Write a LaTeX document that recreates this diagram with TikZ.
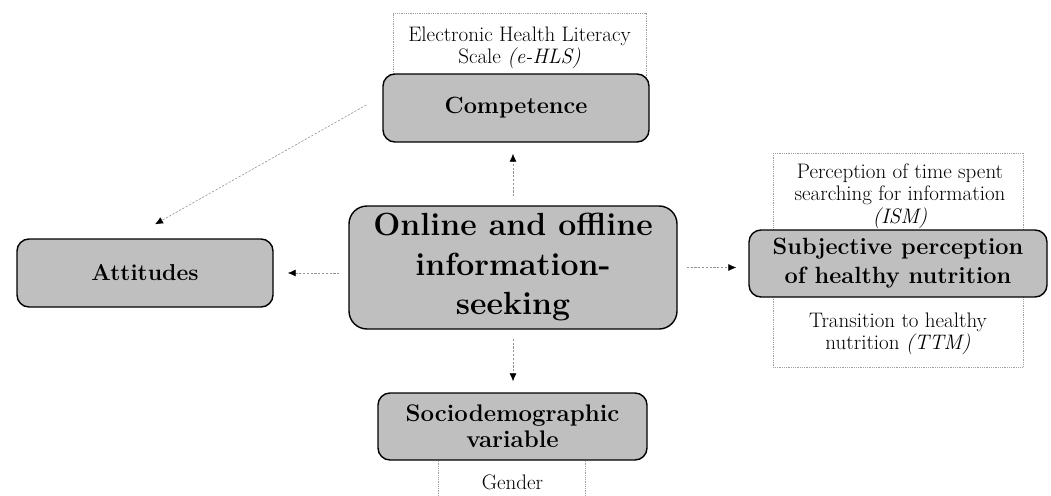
\documentclass[tikz,border=0pt]{standalone}
\usetikzlibrary{arrows.meta,calc}
\begin{document}
\begin{tikzpicture}[x=1pt,y=-1pt,
  box/.style={draw=black, line width=1.4pt, fill=gray!50, rounded corners=12pt, align=center, inner sep=0pt},
  dotbox/.style={draw=gray!75, line width=0.5pt, dash pattern=on 0.8pt off 1pt},
  small/.style={font=\fontsize{21}{22.5}\selectfont, align=center, inner sep=0pt},
  conn/.style={draw=gray!85, line width=0.6pt, dash pattern=on 2.2pt off 1.6pt, -{Latex[black,length=8pt,width=7pt]}}
]
\useasboundingbox (0,0) rectangle (1051,495);
% dotted annotation frames (behind)
\draw[dotbox] (393,108) -- (393,13) -- (646,13) -- (646,108);
\draw[dotbox] (773,153) rectangle (1023,367);
% texts in frames
\node[small] (ehls) at (519.5,48) {Electronic Health Literacy\\Scale \textit{(e-HLS)}};
\node[small] (ism) at (900,196) {Perception of time spent\\searching for information\\\textit{(ISM)}};
\node[small] (ttm) at (898,334) {Transition to healthy\\nutrition \textit{(TTM)}};
% main boxes
\node[box, minimum width=266pt, minimum height=68pt, font=\fontsize{23.5}{28}\bfseries] (comp) at (516,108) {Competence};
\node[box, minimum width=328pt, minimum height=123pt, rounded corners=18pt, font=\fontsize{32}{39.5}\bfseries] (main) at (513,267.5) {Online and offline\\information-\\seeking};
\node[box, minimum width=256pt, minimum height=68pt, font=\fontsize{23}{28}\bfseries] (att) at (145,273) {Attitudes};
\node[box, minimum width=298pt, minimum height=67pt, font=\fontsize{23.5}{29}\bfseries] (subj) at (898,263.5) {Subjective perception\\of healthy nutrition};
\node[box, minimum width=269pt, minimum height=67pt, font=\fontsize{24}{26}\bfseries] (socio) at (512.5,426.5) {Sociodemographic\\variable};
% gender frame
\draw[dotbox] ($(socio.south west)+(61,0)$) -- ++(0,35);
\draw[dotbox] ($(socio.south west)+(208,0)$) -- ++(0,35);
\node[small] (gender) at (512.5,482) {Gender};
% connectors
\draw[conn, shorten <=9pt, shorten >=11pt] (main.north) -- (main.north |- comp.south);
\draw[conn, shorten <=9pt, shorten >=11pt] (main.south) -- (main.south |- socio.north);
\draw[conn, shorten <=9pt, shorten >=12pt] (main.east) -- (main.east -| subj.west);
\draw[conn, shorten <=9pt, shorten >=14pt] (att.east -| main.west) -- (att.east);
\coordinate (dstart) at ($(comp.west)+(-16,-3)$);
\coordinate (dend) at ($(att.north)+(10,-14)$);
\draw[conn] (dstart) -- (dend);
\end{tikzpicture}
\end{document}
